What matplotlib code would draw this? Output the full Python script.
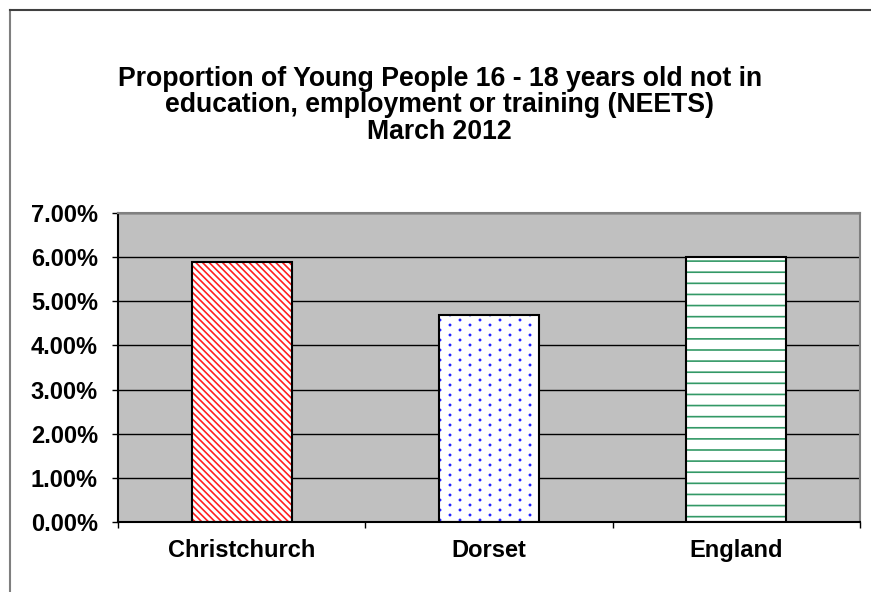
import numpy as np
import matplotlib
matplotlib.use("Agg")
import matplotlib.pyplot as plt
import matplotlib.hatch as mhatch
from matplotlib.path import Path
from matplotlib.lines import Line2D

# ---------------- data ----------------
categories = ["Christchurch", "Dorset", "England"]
values = [5.9, 4.7, 6.0]          # percent
yticks = [0, 1, 2, 3, 4, 5, 6, 7]
ytick_labels = ["0.00%", "1.00%", "2.00%", "3.00%", "4.00%", "5.00%", "6.00%", "7.00%"]
title_lines = ["Proportion of Young People 16 - 18 years old not in",
               "education, employment or training (NEETS)",
               "March 2012"]
bar_hatches = ["\\", ".", "-"]
hatch_colors = ["#FF2020", "#2020FF", "#339966"]

# ---------------- custom hatch densities (Excel-like patterns) ----------------
_orig_get_path = mhatch.get_path


def _dots_path(ncols=5, nrows=20, r=0.006):
    circ = Path.unit_circle()
    verts, codes = [], []
    for i in range(nrows + 1):
        y = i / nrows
        off = 0.0 if i % 2 == 0 else 0.5 / ncols
        xs = np.arange(ncols + 1) / ncols + off
        for xx in xs:
            if xx > 1.0001:
                continue
            verts.append(circ.vertices * r + [xx, y])
            codes.append(circ.codes)
    return Path(np.concatenate(verts), np.concatenate(codes))


def _custom_get_path(hatchpattern, density=6):
    if hatchpattern == "\\":
        return _orig_get_path("\\", 30)
    if hatchpattern == "-":
        return _orig_get_path("-", 9)
    if hatchpattern == ".":
        return _dots_path()
    return _orig_get_path(hatchpattern, density)


mhatch.get_path = _custom_get_path

plt.rcParams["font.family"] = ["Liberation Sans", "DejaVu Sans"]
plt.rcParams["hatch.linewidth"] = 1.2

fig = plt.figure(figsize=(8.71, 5.92), dpi=100)
fig.patch.set_facecolor("white")

ax = fig.add_axes([118 / 871, 1 - 522 / 592, (860 - 118) / 871, (522 - 213) / 592])
ax.set_facecolor("#C0C0C0")

x = np.arange(len(categories))
width = 0.405
# hatched fill
for xi, v, h, c in zip(x, values, bar_hatches, hatch_colors):
    ax.bar(xi, v, width=width, color="white", edgecolor=c, linewidth=0,
           hatch=h, zorder=3)
# black outlines
ax.bar(x, values, width=width, facecolor="none", edgecolor="black",
       linewidth=1.5, zorder=4)

ax.set_xlim(-0.5, len(categories) - 0.5)
ax.set_ylim(0, 7)
ax.set_yticks(yticks)
ax.set_yticklabels(ytick_labels)
ax.set_xticks(x)
ax.set_xticklabels(categories)
ax.set_xticks(np.arange(len(categories) + 1) - 0.5, minor=True)

ax.tick_params(axis="x", which="major", length=0, pad=12, labelsize=17)
ax.tick_params(axis="x", which="minor", length=4, width=1, direction="out")
ax.tick_params(axis="y", which="major", length=4.5, width=1, direction="out",
               pad=10, labelsize=17)
for lab in ax.get_xticklabels() + ax.get_yticklabels():
    lab.set_fontweight("bold")

ax.yaxis.grid(True, color="#000000", linewidth=1.0, zorder=1)
ax.set_axisbelow(True)

ax.spines["left"].set_color("black")
ax.spines["bottom"].set_color("black")
ax.spines["top"].set_color("#808080")
ax.spines["right"].set_color("#808080")
for s in ax.spines.values():
    s.set_linewidth(1.5)
    s.set_zorder(5)

fig.text(0.505, 1 - 105.5 / 592, "\n".join(title_lines), ha="center", va="center",
         fontsize=19.2, fontweight="bold", linespacing=1.03)

# chart-area border (top and left visible)
fig.add_artist(Line2D([10 / 871, 10 / 871], [0, 1 - 10 / 592], transform=fig.transFigure,
                      color="#7F7F7F", linewidth=1.5))
fig.add_artist(Line2D([10 / 871, 1], [1 - 10 / 592, 1 - 10 / 592], transform=fig.transFigure,
                      color="#404040", linewidth=1.5))

fig.savefig("out.png", dpi=100)
